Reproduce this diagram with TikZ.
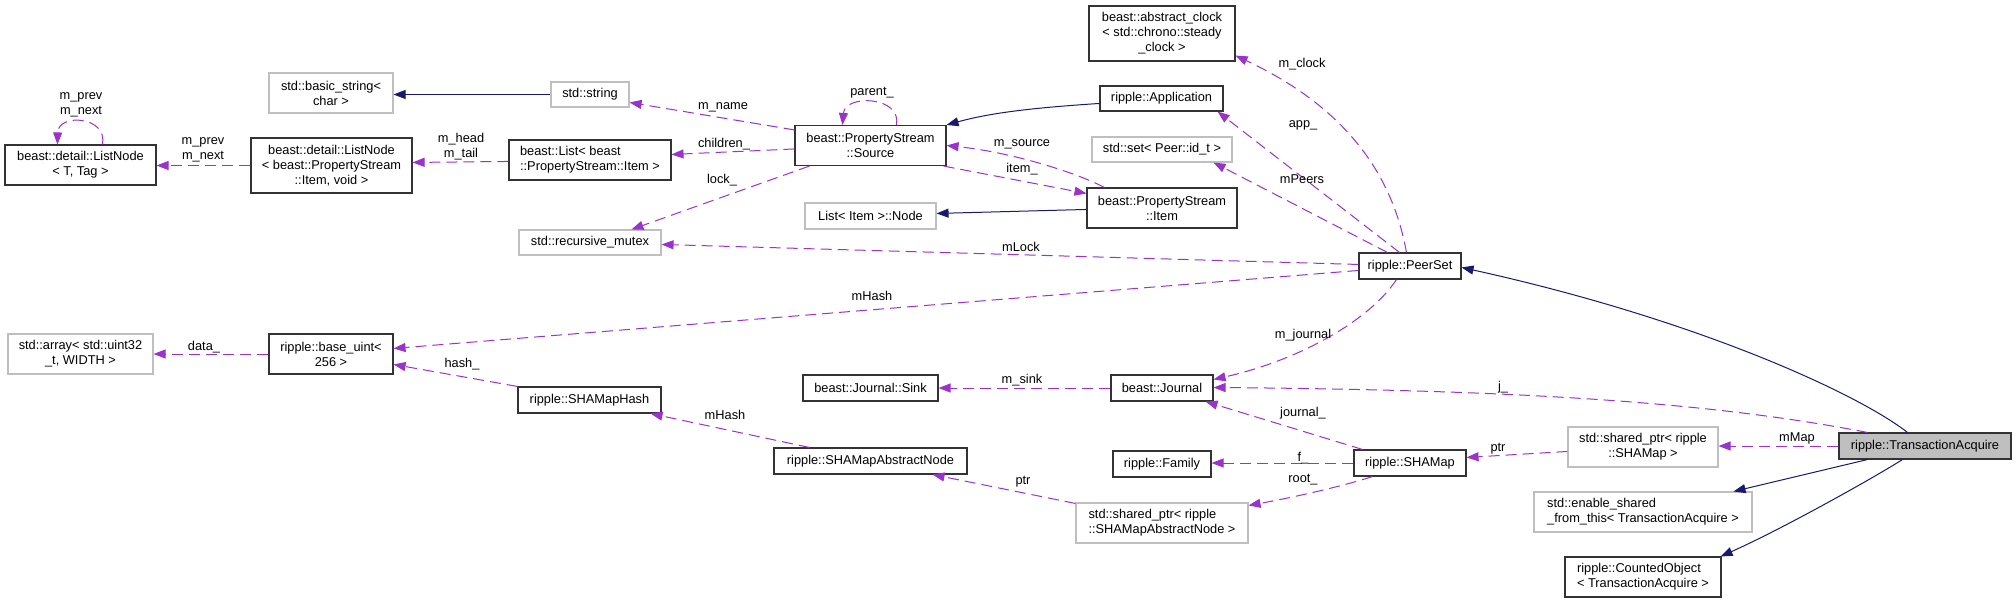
\documentclass[tikz,border=0pt]{standalone}
\usepackage{fontspec}
\setmainfont{Liberation Sans}
\usetikzlibrary{arrows.meta,calc}
\definecolor{usecol}{HTML}{9A32CD}
\definecolor{inhcol}{HTML}{191970}
\definecolor{grayb}{HTML}{BFBFBF}
\definecolor{boxb}{HTML}{333333}
\begin{document}
\begin{tikzpicture}[x=1pt,y=-1pt,
 every node/.style={font=\fontsize{12.8}{15}\selectfont},
 box/.style={draw=boxb, line width=1.1pt, fill=white, inner sep=0pt, align=center},
 gbox/.style={box, draw=grayb},
 usearr/.style={draw=usecol, line width=1pt, dash pattern=on 11pt off 6pt, -{Triangle[length=12pt,width=9pt]}},
 inharr/.style={draw=inhcol, line width=1pt, -{Triangle[length=12pt,width=9pt]}},
 lab/.style={inner sep=0pt, align=center}]
\fill[white] (0,0) rectangle (2016,603);
\useasboundingbox (0,0) rectangle (2016,603);

% nodes
\node[box, minimum width=151pt, minimum height=40pt] (lnT) at (80.5,165) {beast::detail::ListNode\\< T, Tag >};
\node[gbox, minimum width=124pt, minimum height=40pt] (bstr) at (331,93) {std::basic\_string<\\char >};
\node[box, minimum width=161pt, minimum height=55pt] (lnI) at (331.5,165.5) {beast::detail::ListNode\\< beast::PropertyStream\\::Item, void >};
\node[gbox, minimum width=78pt, minimum height=25pt] (str) at (590,94.5) {std::string};
\node[box, align=left, minimum width=162pt, minimum height=40pt] (list) at (590,160) {beast::List< beast\\::PropertyStream::Item >};
\node[box, minimum width=151pt, minimum height=40pt] (src) at (870.5,145.5) {beast::PropertyStream\\::Source};
\node[box, minimum width=146pt, minimum height=55pt] (clock) at (1162,33.5) {beast::abstract\_clock\\< std::chrono::steady\\\_clock >};
\node[box, minimum width=123pt, minimum height=25pt] (app) at (1161.5,98.5) {ripple::Application};
\node[gbox, minimum width=140pt, minimum height=25pt] (set) at (1162,149.5) {std::set< Peer::id\_t >};
\node[box, minimum width=150pt, minimum height=40pt] (item) at (1162,208) {beast::PropertyStream\\::Item};
\node[box, minimum width=102pt, minimum height=26pt] (peer) at (1410,266) {ripple::PeerSet};
\node[gbox, minimum width=142pt, minimum height=25pt] (mutex) at (590,242.5) {std::recursive\_mutex};
\node[gbox, minimum width=131pt, minimum height=26pt] (lnode) at (870.5,216) {List< Item >::Node};
\node[gbox, minimum width=145pt, minimum height=40pt] (arr) at (80.5,354) {std::array< std::uint32\\\_t, WIDTH >};
\node[box, minimum width=124pt, minimum height=40pt] (base) at (331,354) {ripple::base\_uint<\\256 >};
\node[box, minimum width=143pt, minimum height=26pt] (hash) at (589.5,400) {ripple::SHAMapHash};
\node[box, minimum width=135pt, minimum height=26pt] (sink) at (870.5,388) {beast::Journal::Sink};
\node[box, minimum width=102pt, minimum height=26pt] (journal) at (1162,388) {beast::Journal};
\node[box, minimum width=193pt, minimum height=26pt] (san) at (870.5,461) {ripple::SHAMapAbstractNode};
\node[box, minimum width=98pt, minimum height=26pt] (family) at (1162,464) {ripple::Family};
\node[box, minimum width=112pt, minimum height=26pt] (shamap) at (1410,463) {ripple::SHAMap};
\node[gbox, align=left, minimum width=172pt, minimum height=40pt] (ssan) at (1162,523) {std::shared\_ptr< ripple\\::SHAMapAbstractNode >};
\node[gbox, minimum width=150pt, minimum height=40pt] (ssm) at (1643,447) {std::shared\_ptr< ripple\\::SHAMap >};
\node[gbox, align=left, minimum width=218pt, minimum height=40pt] (enable) at (1643,512) {std::enable\_shared\\\_from\_this< TransactionAcquire >};
\node[box, align=left, minimum width=156pt, minimum height=40pt] (counted) at (1643,577) {ripple::CountedObject\\< TransactionAcquire >};
\node[box, fill=grayb, minimum width=172pt, minimum height=26pt] (ta) at (1925,446) {ripple::TransactionAcquire};

% inheritance
\draw[inharr] (str.west) -- (str.west -| bstr.east);
\draw[inharr] ($(app.north west)+(0,18)$) .. controls (1030,108) and (990,113) .. (src.north east);
\draw[inharr] ($(item.north west)+(0,22)$) -- ($(lnode.north east)+(0,11)$);
\draw[inharr] ($(ta.north west)+(69,0)$) .. controls (1860,395) and (1700,320) .. ($(peer.north east)+(0,15)$);
\draw[inharr] ($(ta.south west)+(29,0)$) -- ($(enable.north east)+(-19,0)$);
\draw[inharr] ($(ta.south west)+(64,0)$) .. controls (1870,480) and (1780,530) .. ($(counted.north east)+(-1,0)$);

% usage
\draw[usearr] ($(lnT.north west)+(98,0)$) .. controls (108,116) and (58,113) .. ($(lnT.north west)+(53,0)$);
\node[lab] (l1) at (81,105) {m\_prev\\m\_next};
\draw[usearr] (lnI.west) -- (lnI.west -| lnT.east);
\node[lab] (l2) at (203,150) {m\_prev\\m\_next};
\draw[usearr] ($(list.north west)+(0,22)$) -- ($(lnI.north east)+(0,25)$);
\node[lab] (l3) at (461,147) {m\_head\\m\_tail};
\draw[usearr] ($(src.north west)+(0,5)$) -- ($(str.north east)+(0,21)$);
\node[lab] (l4) at (723,107) {m\_name};
\draw[usearr] ($(src.north west)+(0,24)$) -- ($(list.north east)+(0,15)$);
\node[lab] (l5) at (724,144) {children\_};
\draw[usearr] ($(src.south west)+(15,0)$) -- ($(mutex.north west)+(113,0)$);
\node[lab] (l6) at (722,180) {lock\_};
\draw[usearr] ($(src.north west)+(102,0)$) .. controls (902,96) and (845,94) .. ($(src.north west)+(48,0)$);
\node[lab] (l7) at (872,93) {parent\_};
\draw[usearr] ($(src.south east)+(-3,0)$) -- ($(item.north west)+(0,6)$);
\node[lab] (l8) at (1022,169) {item\_};
\draw[usearr] ($(item.north west)+(18,0)$) .. controls (1075,172) and (1010,152) .. (src.east);
\node[lab] (l9) at (1022,144) {m\_source};
\draw[usearr] ($(peer.north west)+(48,0)$) .. controls (1390,160) and (1330,100) .. ($(clock.south east)+(0,-6)$);
\node[lab] (l10) at (1302,64) {m\_clock};
\draw[usearr] ($(peer.north west)+(41,0)$) -- ($(app.south east)+(-6,0)$);
\node[lab] (l11) at (1303,125) {app\_};
\draw[usearr] ($(peer.north west)+(29,0)$) -- ($(set.south east)+(-19,0)$);
\node[lab] (l12) at (1302,179) {mPeers};
\draw[usearr] ($(peer.north west)+(0,12)$) -- ($(mutex.north east)+(0,15)$);
\node[lab] (l13) at (1021,247) {mLock};
\draw[usearr] ($(peer.north west)+(0,18)$) -- ($(base.north east)+(0,15)$);
\node[lab] (l14) at (872,296) {mHash};
\draw[usearr] ($(peer.south west)+(38,0)$) .. controls (1370,320) and (1300,360) .. ($(journal.north east)+(0,5)$);
\node[lab] (l15) at (1303,335) {m\_journal};
\draw[usearr] (hash.north west) -- ($(base.north east)+(0,31)$);
\node[lab] (l16) at (462,364) {hash\_};
\draw[usearr] (base.west) -- (base.west -| arr.east);
\node[lab] (l17) at (204,347) {data\_};
\draw[usearr] (journal.west) -- (sink.east);
\node[lab] (l18) at (1022,380) {m\_sink};
\draw[usearr] ($(ta.north west)+(29,0)$) .. controls (1700,400) and (1500,390) .. ($(journal.north east)+(0,13)$);
\node[lab] (l19) at (1503,387) {j\_};
\draw[usearr] ($(shamap.north west)+(9,0)$) -- ($(journal.south east)+(-8,0)$);
\node[lab] (l20) at (1303,413) {journal\_};
\draw[usearr] (shamap.west) -- (shamap.west -| family.east);
\node[lab] (l21) at (1303,458) {f\_};
\draw[usearr] ($(shamap.south west)+(19,0)$) .. controls (1340,487) and (1290,498) .. ($(ssan.north east)+(0,3)$);
\node[lab] (l22) at (1303,480) {root\_};
\draw[usearr] ($(ssan.north west)+(0,1)$) -- ($(san.south east)+(-35,0)$);
\node[lab] (l23) at (1023,482) {ptr};
\draw[usearr] ($(san.north west)+(36,0)$) -- ($(hash.south east)+(-11,0)$);
\node[lab] (l24) at (725,415) {mHash};
\draw[usearr] ($(ssm.north west)+(0,25)$) -- ($(shamap.north east)+(0,8)$);
\node[lab] (l25) at (1498,449) {ptr};
\draw[usearr] (ta.west) -- (ta.west -| ssm.east);
\node[lab] (l26) at (1797,438) {mMap};
\end{tikzpicture}
\end{document}
